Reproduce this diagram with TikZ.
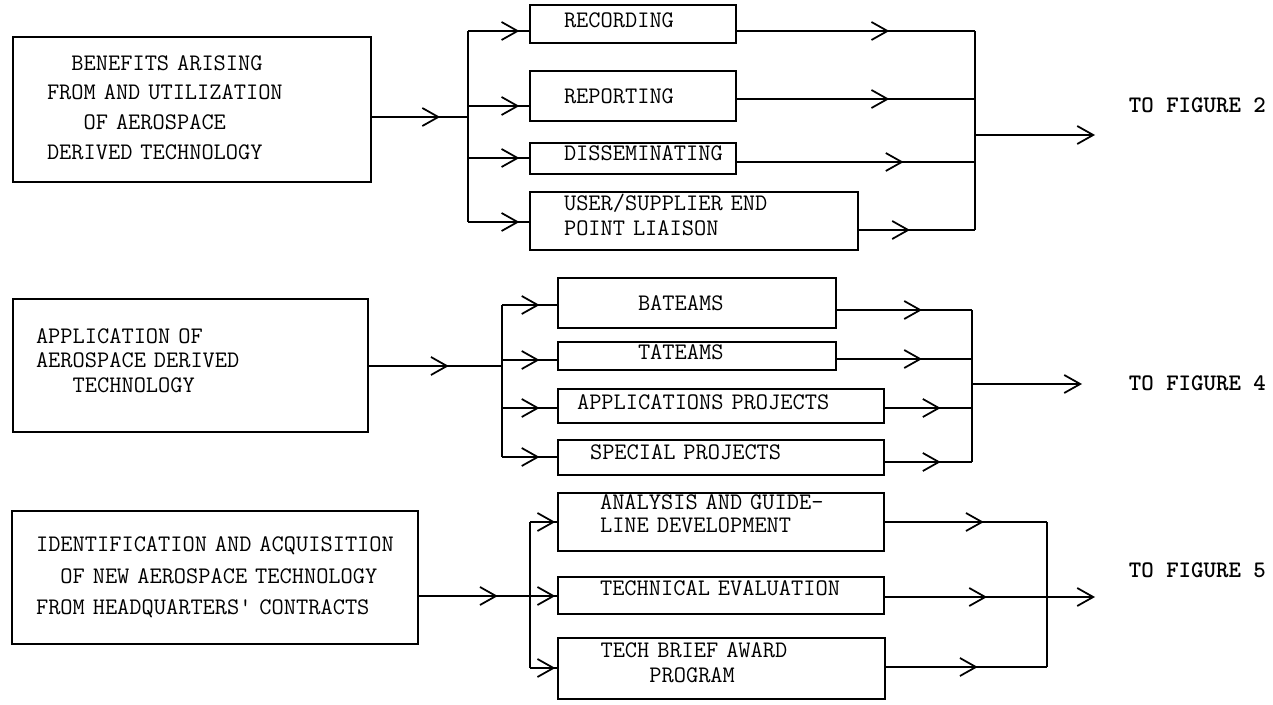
\documentclass[tikz,border=0pt]{standalone}
\usepackage{fontspec}
\usetikzlibrary{arrows.meta,decorations.markings}
\newcommand{\ind}[1]{\hspace*{#1\fontcharwd\font`\M}}
\newcommand{\typew}[1]{\ttfamily\fontsize{13.5}{#1}\selectfont\fontdimen2\font=\fontcharwd\font`\M\relax}
\newcommand{\padlow}[1]{\rule[-#1]{0pt}{#1}}

\begin{document}
\begin{tikzpicture}[x=0.02cm, y=-0.02cm, line width=1pt,
    box/.style={draw, inner sep=0pt, align=left, font=\typew{14}},
    fig/.style={anchor=west, inner sep=0pt, font=\typew{14}\bfseries},
    midarr/.style={postaction={decorate}, decoration={markings,
        mark=at position #1 with {\arrow{Straight Barb[length=0.32cm,width=0.36cm]}}}},
    toarr/.style={-{Straight Barb[length=0.32cm,width=0.36cm]}}]
  \useasboundingbox (0,0) rectangle (1273,705);

  %first group
  \node[box, minimum width=7.16cm, minimum height=2.9cm, text width=5.8cm, font=\typew{17}] (benefit) at (192,109.5)
        {\ind{2}BENEFITS ARISING\\FROM AND UTILIZATION\\\ind{3}OF AEROSPACE\\DERIVED TECHNOLOGY\padlow{0.08cm}};
  \node[box, minimum width=4.12cm, minimum height=0.76cm, text width=2.76cm] (record) at (633,24) {RECORDING\padlow{0.16cm}};
  \node[box, minimum width=4.12cm, minimum height=1cm, text width=2.76cm] (report) at (633,96) {REPORTING};
  \node[box, minimum width=4.12cm, minimum height=0.62cm, text width=2.76cm] (dissem) at (633,158.5)
        {\mbox{DISSEMINATING}\padlow{0.2cm}};
  \node[box, minimum width=6.56cm, minimum height=1.16cm, text width=5.2cm] (liaison) at (694,221)
        {USER/SUPPLIER END\\POINT LIAISON\padlow{0.24cm}};
  \node[fig] (fig2) at (1128,105) {TO FIGURE 2};

  %second group
  \node[box, minimum width=7.1cm, minimum height=2.66cm, text width=6.18cm] (applic) at (190.5,365.5)
        {APPLICATION OF\\AEROSPACE DERIVED\\\ind{3}TECHNOLOGY\padlow{0.2cm}};
  \node[box, minimum width=5.56cm, minimum height=1cm, text width=2.36cm] (bateam) at (697,303) {BATEAMS};
  \node[box, minimum width=5.56cm, minimum height=0.56cm, text width=2.36cm] (tateam) at (697,356) {TATEAMS\padlow{0.16cm}};
  \node[box, minimum width=6.52cm, minimum height=0.68cm, text width=5.76cm] (approj) at (721,406)
        {APPLICATIONS PROJECTS\padlow{0.16cm}};
  \node[box, minimum width=6.52cm, minimum height=0.7cm, text width=5.24cm] (spproj) at (721,457.5)
        {SPECIAL PROJECTS\padlow{0.2cm}};
  \node[fig] (fig4) at (1128,383) {TO FIGURE 4};

  %third group
  \node[box, minimum width=8.12cm, minimum height=2.66cm, text width=7.16cm, font=\typew{18}] (acquis) at (215,577.5)
        {\mbox{IDENTIFICATION AND ACQUISITION}\\\mbox{\ind{2}OF NEW AEROSPACE TECHNOLOGY}\\\mbox{FROM HEADQUARTERS' CONTRACTS}};
  \node[box, minimum width=6.52cm, minimum height=1.16cm, text width=4.84cm, font=\typew{13}] (guide) at (721,522)
        {ANALYSIS AND GUIDE-\\LINE DEVELOPMENT\padlow{0.32cm}};
  \node[box, minimum width=6.52cm, minimum height=0.74cm, text width=4.84cm] (evalu) at (721,595.5)
        {\mbox{TECHNICAL EVALUATION}\padlow{0.28cm}};
  \node[box, minimum width=6.54cm, minimum height=1.22cm, text width=4.84cm] (award) at (721.5,668.5)
        {TECH BRIEF AWARD\\\ind{4}PROGRAM\padlow{0.24cm}};
  \node[fig] (fig5) at (1128,570) {TO FIGURE 5};

  %split and join points
  \coordinate (in1) at (468,117);
  \coordinate (b1a) at (468,31); \coordinate (b1b) at (468,106);
  \coordinate (b1c) at (468,158); \coordinate (b1d) at (468,222);
  \coordinate (o1a) at (975,31); \coordinate (o1b) at (975,99);
  \coordinate (o1c) at (975,162); \coordinate (o1d) at (975,230);
  \coordinate (o1) at (975,135); \coordinate (e1) at (1095,135);
  \coordinate (in2) at (502,366);
  \coordinate (b2a) at (502,305); \coordinate (b2b) at (502,360);
  \coordinate (b2c) at (502,408); \coordinate (b2d) at (502,457);
  \coordinate (o2a) at (972,310); \coordinate (o2b) at (972,359);
  \coordinate (o2c) at (972,408); \coordinate (o2d) at (972,462);
  \coordinate (o2) at (972,384); \coordinate (e2) at (1082,384);
  \coordinate (in3) at (530,596);
  \coordinate (b3a) at (530,522); \coordinate (b3c) at (530,668);
  \coordinate (o3a) at (1047,522); \coordinate (o3b) at (1047,597);
  \coordinate (o3c) at (1047,667); \coordinate (e3) at (1095,597);

  %first group lines
  \draw[midarr=0.71] (benefit.east |- in1) -- (in1);
  \draw (b1a) -- (b1d);
  \draw[midarr=0.84] (b1a) -- (b1a -| record.west);
  \draw[midarr=0.84] (b1b) -- (b1b -| report.west);
  \draw[midarr=0.84] (b1c) -- (b1c -| dissem.west);
  \draw[midarr=0.84] (b1d) -- (b1d -| liaison.west);
  \draw[midarr=0.64] (record.east |- o1a) -- (o1a);
  \draw[midarr=0.64] (report.east |- o1b) -- (o1b);
  \draw[midarr=0.70] (dissem.east |- o1c) -- (o1c);
  \draw[midarr=0.44] (liaison.east |- o1d) -- (o1d);
  \draw (o1a) -- (o1d);
  \draw[toarr] (o1) -- (e1);

  %second group lines
  \draw[midarr=0.6] (applic.east |- in2) -- (in2);
  \draw (b2a) -- (b2d);
  \draw[midarr=0.68] (b2a) -- (b2a -| bateam.west);
  \draw[midarr=0.68] (b2b) -- (b2b -| tateam.west);
  \draw[midarr=0.68] (b2c) -- (b2c -| approj.west);
  \draw[midarr=0.68] (b2d) -- (b2d -| spproj.west);
  \draw[midarr=0.63] (bateam.east |- o2a) -- (o2a);
  \draw[midarr=0.63] (tateam.east |- o2b) -- (o2b);
  \draw[midarr=0.64] (approj.east |- o2c) -- (o2c);
  \draw[midarr=0.64] (spproj.east |- o2d) -- (o2d);
  \draw (o2a) -- (o2d);
  \draw[toarr] (o2) -- (e2);

  %third group lines
  \draw[midarr=0.71] (acquis.east |- in3) -- (in3);
  \draw (b3a) -- (b3c);
  \draw[midarr=0.93] (b3a) -- (b3a -| guide.west);
  \draw[midarr=0.93] (in3) -- (in3 -| evalu.west);
  \draw[midarr=0.93] (b3c) -- (b3c -| award.west);
  \draw[midarr=0.61] (guide.east |- o3a) -- (o3a);
  \draw[midarr=0.63] (evalu.east |- o3b) -- (o3b);
  \draw[midarr=0.57] (award.east |- o3c) -- (o3c);
  \draw (o3a) -- (o3c);
  \draw[toarr] (o3b) -- (e3);
\end{tikzpicture}
\end{document}
